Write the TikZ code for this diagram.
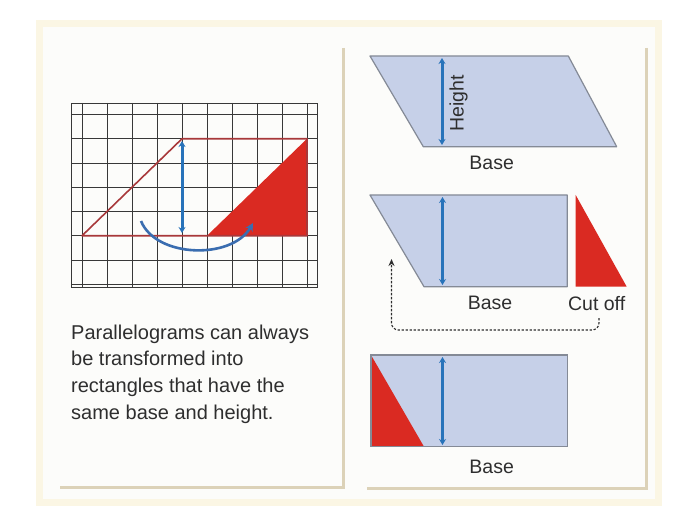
\documentclass[tikz,border=0pt]{standalone}
\usepackage{fontspec}
\setmainfont{Liberation Sans}
\usetikzlibrary{arrows.meta}
\definecolor{cream}{HTML}{FBF6E4}
\definecolor{shadowc}{HTML}{DCD2B8}
\definecolor{paper}{HTML}{FCFCFA}
\definecolor{gridc}{HTML}{383838}
\definecolor{shapefill}{HTML}{C6D0E8}
\definecolor{shapeedge}{HTML}{848A96}
\definecolor{cutred}{HTML}{DA2A22}
\definecolor{outline}{HTML}{A8383A}
\definecolor{arrowblue}{HTML}{2873BA}
\definecolor{curveblue}{HTML}{3A6DB0}
\definecolor{txt}{HTML}{2E2E2E}
\tikzset{
  gridline/.style={draw=gridc, line width=0.9pt},
  piece/.style={fill=shapefill, draw=shapeedge, line width=1.2pt, line join=round},
  hgt/.style={draw=arrowblue, line width=3pt, {Stealth[length=6pt,width=7pt]}-{Stealth[length=6pt,width=7pt]}},
  lbl/.style={text=txt, font=\fontsize{19.5}{22}\selectfont, inner sep=0pt},
  shadowline/.style={draw=shadowc, line width=3pt},
}
\begin{document}
\begin{tikzpicture}[x=1pt,y=-1pt]
\useasboundingbox (0,0) rectangle (686,508);
% page
\fill[white] (0,0) rectangle (686,508);
\fill[cream] (36,20) rectangle (662,506);
\fill[paper] (43,27) rectangle (655,499);
% panel shadows
\draw[shadowline] (343,48) -- (343,487) -- (60,487);
\draw[shadowline] (646,48) -- (646,488) -- (367,488);

% ---------- grid ----------
\draw[gridline] (71,103) rectangle (317,287);
\foreach \x in {82,107,132,157,182,207,232,257,282,307}
  \draw[gridline] (\x,103) -- (\x,287);
\foreach \y in {114.5,138.75,163,187.25,211.5,235.75,260,284.25}
  \draw[gridline] (71,\y) -- (317,\y);
\coordinate (gA) at (82,235.75);
\coordinate (gB) at (182,138.75);
\coordinate (gC) at (307,138.75);
\coordinate (gD) at (307,235.75);
\coordinate (gE) at (207,235.75);
\fill[cutred] (gE) -- (gC) -- (gD) -- cycle;
\draw[outline, line width=1.6pt, line join=round] (gA) -- (gB) -- (gC) -- (gD) -- cycle;
\coordinate (gh1) at (182,141);
\coordinate (gh2) at (182,233);
\draw[hgt] (gh1) -- (gh2);
\coordinate (cs) at (141,221);
\coordinate (ce) at (253,223);
\draw[draw=curveblue, line width=2.6pt, -{Stealth[length=8pt,width=8pt]}]
  (cs) .. controls (156,258) and (232,260) .. (ce);

% ---------- caption ----------
\node[text=txt, font=\fontsize{20}{26.7}\selectfont, align=left, inner sep=0pt, anchor=north west]
  (cap) at (71,324.5) {Parallelograms can always\\be transformed into\\rectangles that have the\\same base and height.};

% ---------- shape 1 ----------
\draw[piece] (370,56) -- (568.3,56) -- (616.7,146.7) -- (423.3,146.7) -- cycle;
\coordinate (h1t) at (442,58);
\coordinate (h1b) at (442,145);
\draw[hgt] (h1t) -- (h1b);
\node[lbl, rotate=90] (height) at (458.5,103.3) {Height};
\node[lbl] (base1) at (491.7,163) {Base};

% ---------- shape 2 ----------
\draw[piece] (370,195) -- (567.3,195) -- (567.3,286.7) -- (424,286.7) -- cycle;
\fill[cutred] (575.7,195) -- (575.7,286.7) -- (626.7,286.7) -- cycle;
\coordinate (h2t) at (442.5,197);
\coordinate (h2b) at (442.5,285);
\draw[hgt] (h2t) -- (h2b);
\node[lbl] (base2) at (490,303.3) {Base};
\node[lbl] (cutoff) at (596.7,303.3) {Cut off};
\coordinate (dstart) at (599,318);
\coordinate (dend) at (391.5,259);
\draw[draw=txt, line width=1.1pt, dash pattern=on 2.4pt off 1.6pt, rounded corners=7pt,
      -{Stealth[length=7pt,width=6pt]}]
  (dstart) -- (599,330) -- (391.5,330) -- (dend);

% ---------- shape 3 ----------
\draw[piece] (371,355) rectangle (567.3,446.7);
\fill[cutred] (371,355) -- (424,446.7) -- (371,446.7) -- cycle;
\draw[shapeedge, line width=1.2pt] (371,355) rectangle (567.3,446.7);
\coordinate (h3t) at (442.5,357);
\coordinate (h3b) at (442.5,445);
\draw[hgt] (h3t) -- (h3b);
\node[lbl] (base3) at (491.7,466.7) {Base};
\end{tikzpicture}
\end{document}
